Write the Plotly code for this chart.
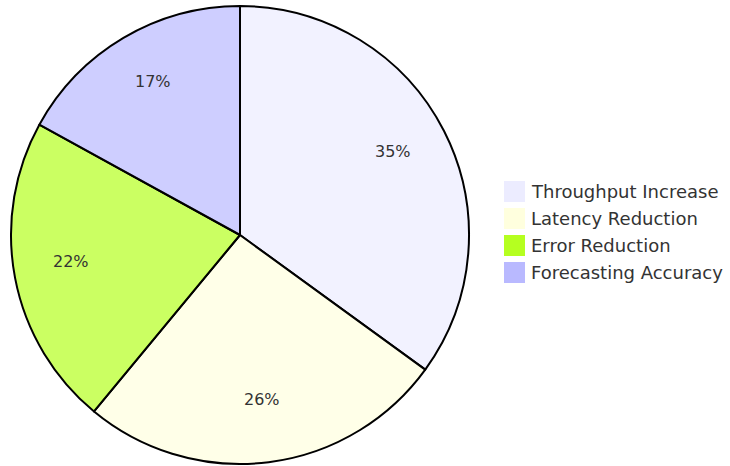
import math
import plotly.graph_objects as go

labels = ["Throughput Increase", "Latency Reduction", "Error Reduction", "Forecasting Accuracy"]
values = [35, 26, 22, 17]
legend_colors = ["#ECECFF", "#FFFFDE", "#B5FF20", "#B9B9FF"]
slice_colors = ["rgba(236,236,255,0.7)", "rgba(255,255,222,0.7)", "rgba(181,255,32,0.7)", "rgba(185,185,255,0.7)"]

FONT = "DejaVu Sans, Verdana, Arial, sans-serif"
W, H = 730, 466

# pie domain in pixels
PX0, PX1, PY0, PY1 = 11, 469, 6, 464  # left, right, top, bottom
cx, cy = (PX0 + PX1) / 2, (PY0 + PY1) / 2
R = min(PX1 - PX0, PY1 - PY0) / 2

fig = go.Figure()
fig.add_trace(go.Pie(
    labels=labels,
    values=values,
    sort=False,
    direction="clockwise",
    rotation=0,
    marker=dict(colors=slice_colors, line=dict(color="#000000", width=2)),
    textinfo="none",
    showlegend=False,
    hoverinfo="label+percent",
    domain=dict(x=[PX0 / W, PX1 / W], y=[1 - PY1 / H, 1 - PY0 / H]),
))

# percentage labels at 0.75 of the radius along each slice's mid-angle
total = sum(values)
cum = 0
for v in values:
    mid = (cum + v / 2) / total * 2 * math.pi
    cum += v
    lx = cx + 0.75 * R * math.sin(mid)
    ly = cy - 0.75 * R * math.cos(mid) - 6
    fig.add_annotation(xref="paper", yref="paper", x=lx / W, y=1 - ly / H,
                       text=f"{round(v / total * 100)}%", showarrow=False,
                       xanchor="center", yanchor="middle",
                       font=dict(family=FONT, size=16, color="#333333"))

# Custom legend (swatches + labels) built from the data lists
x0, y_top, step, box = 504, 181, 27, 21
for i, (lab, col) in enumerate(zip(labels, legend_colors)):
    yt = y_top + i * step
    fig.add_shape(type="rect", xref="paper", yref="paper",
                  x0=x0 / W, x1=(x0 + box) / W,
                  y0=1 - (yt + box) / H, y1=1 - yt / H,
                  fillcolor=col, line=dict(width=0))
    fig.add_annotation(xref="paper", yref="paper", x=(x0 + box + 4) / W,
                       y=1 - (yt + box / 2) / H, text=lab, showarrow=False,
                       xanchor="left", yanchor="middle",
                       font=dict(family=FONT, size=18, color="#333333"))

fig.update_layout(
    width=W, height=H,
    margin=dict(l=0, r=0, t=0, b=0),
    paper_bgcolor="white", plot_bgcolor="white",
    font=dict(family=FONT),
)

fig.write_html("out.html")
